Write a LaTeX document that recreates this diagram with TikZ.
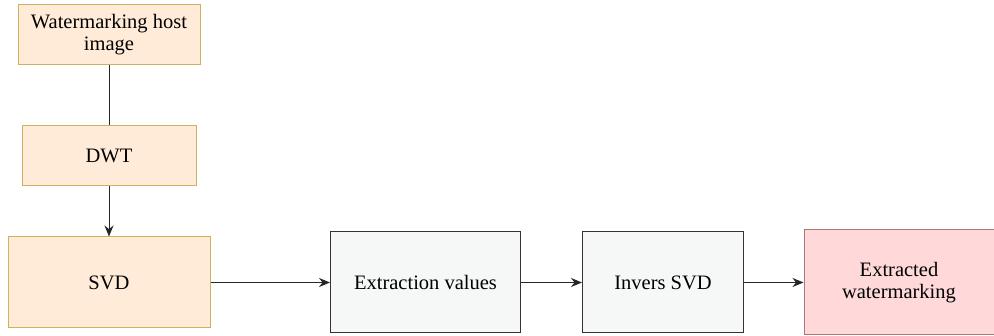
\documentclass[tikz,border=0pt]{standalone}
\usepackage{fontspec}
\setmainfont{Liberation Serif}
\usetikzlibrary{arrows.meta}
\definecolor{orfill}{HTML}{FFEBD7}
\definecolor{ordraw}{HTML}{C9B561}
\definecolor{grfill}{HTML}{F6F8F8}
\definecolor{grdraw}{HTML}{333333}
\definecolor{pkfill}{HTML}{FFD9D9}
\definecolor{pkdraw}{HTML}{B07575}
\tikzset{
  base/.style={rectangle, inner sep=0pt, align=center, font=\fontsize{20.5}{22}\selectfont, line width=1pt},
  orbox/.style={base, fill=orfill, draw=ordraw},
  grbox/.style={base, fill=grfill, draw=grdraw},
  pkbox/.style={base, fill=pkfill, draw=pkdraw},
  conn/.style={line width=1pt, draw=black!85},
  arr/.style={conn, -{Stealth[length=11pt,width=9pt]}}
}
\begin{document}
\begin{tikzpicture}[x=1pt,y=-1pt]
\useasboundingbox (0,0) rectangle (994,336);
\node[orbox, minimum width=182pt, minimum height=60pt] (host) at (109,35) {Watermarking host\\image};
\node[orbox, minimum width=174pt, minimum height=60pt] (dwt) at (109,156) {DWT};
\node[orbox, minimum width=202pt, minimum height=91pt] (svd) at (109,282.5) {SVD};
\node[grbox, minimum width=190pt, minimum height=101pt] (ext) at (425.5,282.5) {Extraction values};
\node[grbox, minimum width=161pt, minimum height=101pt] (inv) at (663,282.5) {Invers SVD};
\node[pkbox, minimum width=190pt, minimum height=105pt] (out) at (899,282.5) {Extracted\\watermarking};
\draw[conn] (host) -- (dwt);
\draw[arr] (dwt) -- (svd);
\draw[arr] (svd) -- (ext);
\draw[arr] (ext) -- (inv);
\draw[arr] (inv) -- (out);
\end{tikzpicture}
\end{document}
